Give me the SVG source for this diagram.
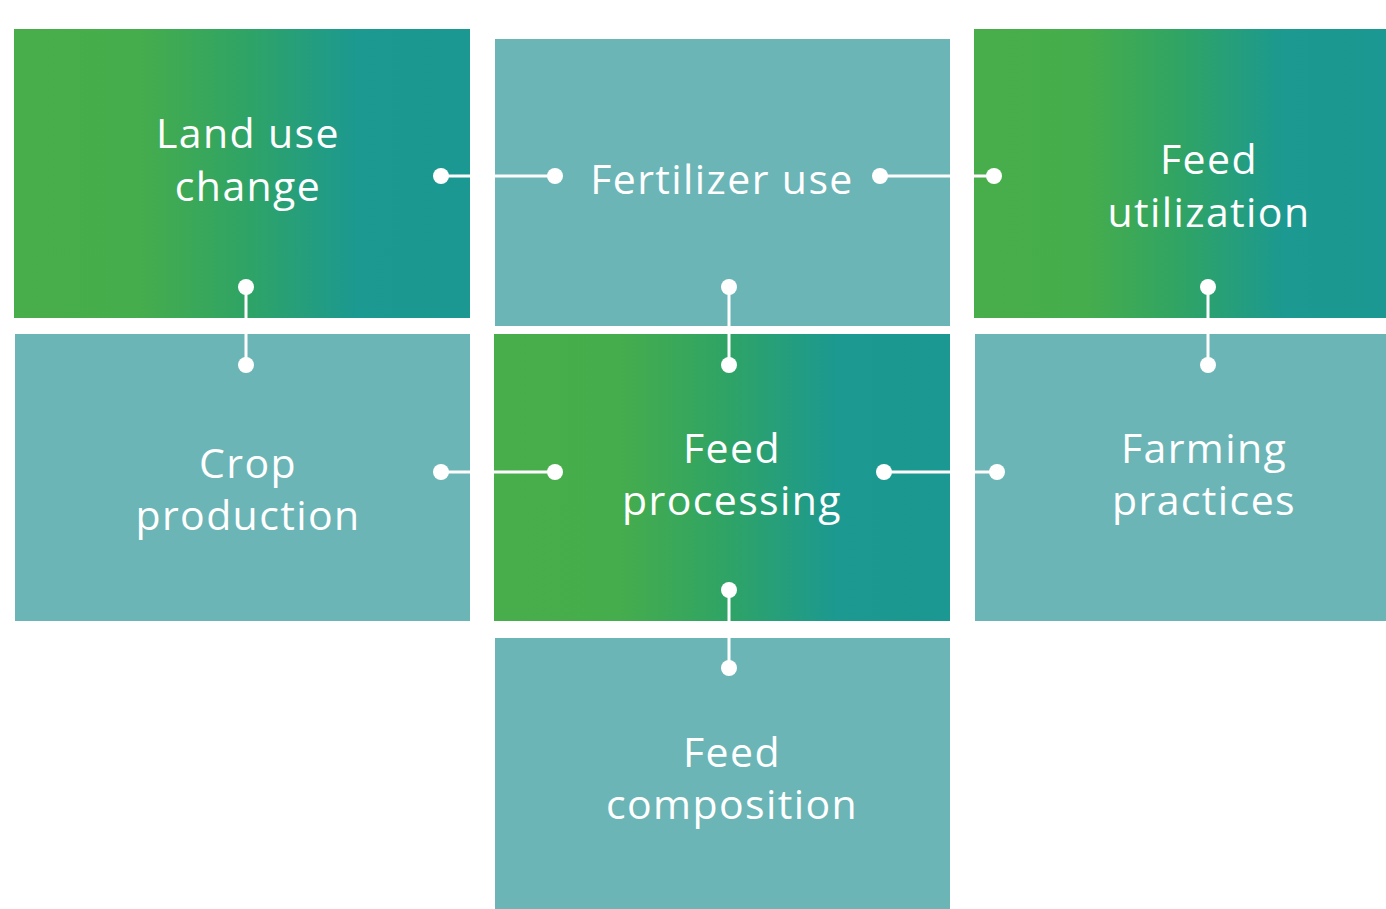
<svg xmlns="http://www.w3.org/2000/svg" width="1386" height="909" viewBox="0 0 1386 909">
<defs>
<linearGradient id="g" x1="0" y1="0" x2="1" y2="0">
<stop offset="0" stop-color="#48AE4B"/>
<stop offset="0.27" stop-color="#46AD4C"/>
<stop offset="0.5" stop-color="#30A464"/>
<stop offset="0.75" stop-color="#1C9990"/>
<stop offset="1" stop-color="#1A9891"/>
</linearGradient>
<style>
.grad{fill:url(#g)}
.flat{fill:#6BB5B6}
.t{font-family:"Open Sans","Noto Sans",sans-serif;font-size:41px;fill:#fff;text-anchor:middle;letter-spacing:1.4px}
.ln{stroke:#fff;stroke-width:3;fill:none}
.dot{fill:#fff}
</style>
</defs>
<rect width="1386" height="909" fill="#fff"/>
<g id="land-use-change"><rect class="grad" x="14" y="29" width="456" height="289"/><text class="t" x="248" y="148">Land use</text><text class="t" x="248" y="201">change</text></g>
<g id="fertilizer-use"><rect class="flat" x="495" y="39" width="455" height="287"/><text class="t" x="722" y="194">Fertilizer use</text></g>
<g id="feed-utilization"><rect class="grad" x="974" y="29" width="412" height="289"/><text class="t" x="1209" y="174">Feed</text><text class="t" x="1209" y="227">utilization</text></g>
<g id="crop-production"><rect class="flat" x="15" y="334" width="455" height="287"/><text class="t" x="248" y="478">Crop</text><text class="t" x="248" y="530">production</text></g>
<g id="feed-processing"><rect class="grad" x="494" y="334" width="456" height="287"/><text class="t" x="732" y="463">Feed</text><text class="t" x="732" y="515">processing</text></g>
<g id="farming-practices"><rect class="flat" x="975" y="334" width="411" height="287"/><text class="t" x="1204" y="463">Farming</text><text class="t" x="1204" y="515">practices</text></g>
<g id="feed-composition"><rect class="flat" x="495" y="638" width="455" height="271"/><text class="t" x="732" y="767">Feed</text><text class="t" x="732" y="819">composition</text></g>
<g id="connectors">
<line class="ln" x1="441" y1="176" x2="555" y2="176"/><circle class="dot" cx="441" cy="176" r="8"/><circle class="dot" cx="555" cy="176" r="8"/>
<line class="ln" x1="880" y1="176" x2="994" y2="176"/><circle class="dot" cx="880" cy="176" r="8"/><circle class="dot" cx="994" cy="176" r="8"/>
<line class="ln" x1="246" y1="287" x2="246" y2="365"/><circle class="dot" cx="246" cy="287" r="8"/><circle class="dot" cx="246" cy="365" r="8"/>
<line class="ln" x1="729" y1="287" x2="729" y2="365"/><circle class="dot" cx="729" cy="287" r="8"/><circle class="dot" cx="729" cy="365" r="8"/>
<line class="ln" x1="1208" y1="287" x2="1208" y2="365"/><circle class="dot" cx="1208" cy="287" r="8"/><circle class="dot" cx="1208" cy="365" r="8"/>
<line class="ln" x1="441" y1="472" x2="555" y2="472"/><circle class="dot" cx="441" cy="472" r="8"/><circle class="dot" cx="555" cy="472" r="8"/>
<line class="ln" x1="884" y1="472" x2="997" y2="472"/><circle class="dot" cx="884" cy="472" r="8"/><circle class="dot" cx="997" cy="472" r="8"/>
<line class="ln" x1="729" y1="590" x2="729" y2="668"/><circle class="dot" cx="729" cy="590" r="8"/><circle class="dot" cx="729" cy="668" r="8"/>
</g>
</svg>
